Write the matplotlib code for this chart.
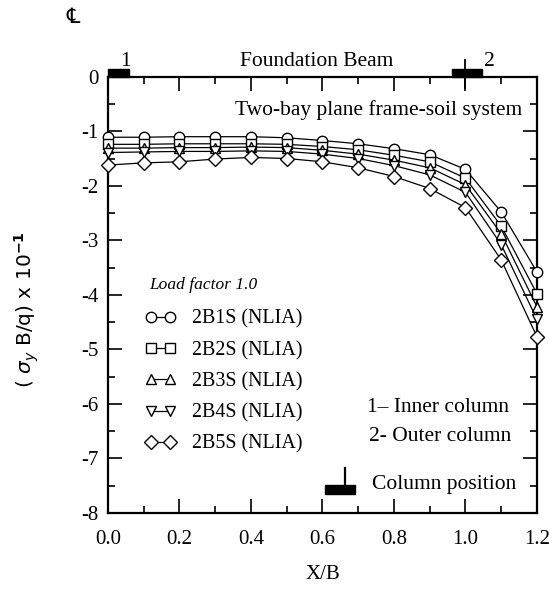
import matplotlib
matplotlib.use('Agg')
import matplotlib.pyplot as plt
from matplotlib.patches import Rectangle
from matplotlib.ticker import MultipleLocator, FormatStrFormatter

plt.rcParams['font.family'] = ['Liberation Serif', 'DejaVu Serif', 'DejaVu Sans']
plt.rcParams['mathtext.fontset'] = 'dejavusans'

# --- data ---
x_b = [0.0, 0.1, 0.2, 0.3, 0.4, 0.5, 0.6, 0.7, 0.8, 0.9, 1.0, 1.1, 1.2]
s_2b1s = [-1.11, -1.11, -1.10, -1.10, -1.10, -1.12, -1.17, -1.23, -1.32, -1.43, -1.70, -2.48, -3.58]
s_2b2s = [-1.24, -1.24, -1.23, -1.23, -1.23, -1.24, -1.28, -1.34, -1.44, -1.56, -1.86, -2.74, -3.98]
s_2b3s = [-1.31, -1.31, -1.30, -1.30, -1.29, -1.30, -1.35, -1.42, -1.53, -1.67, -1.98, -2.88, -4.22]
s_2b4s = [-1.39, -1.38, -1.37, -1.37, -1.36, -1.37, -1.42, -1.50, -1.63, -1.80, -2.12, -3.08, -4.45]
s_2b5s = [-1.62, -1.58, -1.56, -1.51, -1.48, -1.50, -1.56, -1.67, -1.83, -2.05, -2.40, -3.36, -4.77]

series = [s_2b1s, s_2b2s, s_2b3s, s_2b4s, s_2b5s]
labels = ['2B1S (NLIA)', '2B2S (NLIA)', '2B3S (NLIA)', '2B4S (NLIA)', '2B5S (NLIA)']
markers = ['o', 's', '^', 'v', 'D']
msizes = [7.5, 7.5, 7.5, 7.5, 7]

# column positions marked on the beam (X/B)
col_inner = 0.0
col_outer = 1.0

fig = plt.figure(figsize=(5.49, 5.90), dpi=100)
ax = fig.add_axes([0.1967, 0.1305, 0.7814, 0.7395])

for ys, lab, m, ms in zip(series, labels, markers, msizes):
    ax.plot(x_b, ys, color='black', lw=0.9, marker=m, ms=ms,
            mfc='white', mec='black', mew=1.0, label=lab, clip_on=False, zorder=3)

ax.set_xlim(0, 1.2)
ax.set_ylim(-8, 0)
ax.xaxis.set_major_locator(MultipleLocator(0.2))
ax.xaxis.set_minor_locator(MultipleLocator(0.1))
ax.yaxis.set_major_locator(MultipleLocator(1))
ax.yaxis.set_minor_locator(MultipleLocator(0.5))
ax.xaxis.set_major_formatter(FormatStrFormatter('%.1f'))
ax.yaxis.set_major_formatter(FormatStrFormatter('%d'))
ax.tick_params(which='both', direction='in', top=True, right=True, labelsize=15, width=1.2)
ax.tick_params(which='major', length=10)
ax.tick_params(which='minor', length=5)
ax.tick_params(axis='x', which='major', pad=12)
ax.tick_params(axis='y', which='major', pad=7)
for sp in ax.spines.values():
    sp.set_linewidth(1.6)

ax.set_xlabel('X/B', fontsize=15, labelpad=12)
ax.set_ylabel(r'( $\sigma_y$ B/q) x 10$^{\mathbf{-1}}$', fontsize=14.5,
              family='DejaVu Sans')
ax.yaxis.set_label_coords(-0.155, 0.465)

# legend
ax.legend(numpoints=2, loc='center left', bbox_to_anchor=(0.086, 0.301),
          frameon=False, fontsize=14.4, handlelength=1.55, handletextpad=0.8,
          labelspacing=0.6, borderpad=0, borderaxespad=0)
ax.text(0.115, -3.82, 'Load factor 1.0', fontsize=12.5, style='italic', va='center')

# annotations
ax.text(1.158, -0.61, 'Two-bay plane frame-soil system', fontsize=15.5, ha='right', va='center')
ax.text(0.7245, -6.07, '1\u2013 Inner column', fontsize=15.5, va='center')
ax.text(0.73, -6.6, '2- Outer column', fontsize=15.5, va='center')
ax.text(0.738, -7.48, 'Column position', fontsize=15.5, va='center')
ax.add_patch(Rectangle((0.607, -7.66), 0.084, 0.18, color='black', clip_on=False))
ax.plot([0.663, 0.663], [-7.17, -7.5], color='black', lw=1.6)

# foundation beam and column markers above the axes
ax.text(0.585, 0.27, 'Foundation Beam', fontsize=15.5, ha='center', va='center')
ax.text(col_inner + 0.05, 0.27, '1', fontsize=15.5, ha='center', va='center')
ax.text(col_outer + 0.066, 0.27, '2', fontsize=15.5, ha='center', va='center')
ax.add_patch(Rectangle((col_inner, 0.0), 0.06, 0.14, color='black', clip_on=False))
ax.add_patch(Rectangle((col_outer - 0.038, 0.0), 0.084, 0.14, color='black', clip_on=False))
ax.plot([col_outer, col_outer], [-0.2, 0.3], color='black', lw=1.3, clip_on=False)
ax.text(-0.098, 1.08, '\u2104', fontsize=15, ha='center', va='center',
        family=['DejaVu Serif', 'DejaVu Sans'])

fig.savefig('out.png', dpi=100)
